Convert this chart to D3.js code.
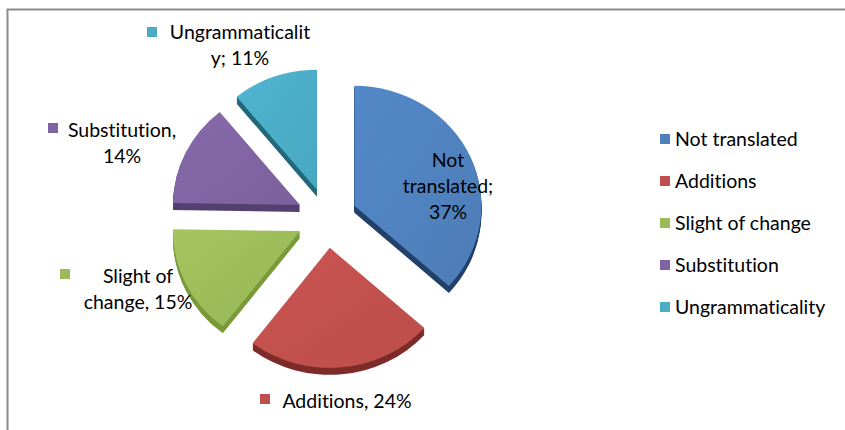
<!DOCTYPE html>
<html>
<head>
<meta charset="utf-8">
<script src="https://cdn.jsdelivr.net/npm/d3@7"></script>
<style>
  html, body { margin: 0; padding: 0; background: #fff; }
  svg text { font-family: Lato, "Open Sans", sans-serif; fill: #000; font-variant-ligatures: none; }
</style>
</head>
<body>
<div id="chart"></div>
<script>
// chart data
const categories = ["Not translated", "Additions", "Slight of change", "Substitution", "Ungrammaticality"];
const values = [37, 24, 15, 14, 11];
const colors = ["#4F81BD", "#C0504D", "#9BBB59", "#8064A2", "#4BACC6"];
const sideColors = ["#21406a", "#7d2c2a", "#7a9a3c", "#54406f", "#23697b"];
// data label text, one entry per line
const labelLines = [
    ["Not", "translated;", "37%"],
    ["Additions, 24%"],
    ["Slight of", "change, 15%"],
    ["Substitution,", "14%"],
    ["Ungrammaticalit", "y; 11%"]
];

const width = 845, height = 430;
const cx = 327, cy = 218;       // pie centre
const rx = 127, ry = 120;       // tilted pie radii
const explode = 30;
const depth = 7;

// where Excel put each data label (centre x of text block, first baseline, key square)
const labelLayout = [
    { x: 448, y: 167, key: [378, 153], keyInside: true },
    { x: 347, y: 408, key: [260, 394] },
    { x: 138, y: 283, key: [60, 269] },
    { x: 122, y: 137, key: [48, 123] },
    { x: 240, y: 39, key: [147, 27] }
];
const lineHeight = 26;
const fontSize = "19.5px";

const svg = d3.select("#chart")
    .append("svg")
    .attr("width", width)
    .attr("height", height);

// chart area frame (only top and left edges visible)
svg.append("path")
    .attr("d", `M7.5,${height} L7.5,9.5 L${width},9.5`)
    .attr("fill", "none")
    .attr("stroke", "#8a8a8a")
    .attr("stroke-width", 2);

const pie = d3.pie().sort(null).value(d => d.value);
const arcs = pie(values.map((v, i) => ({ value: v, i })));

const arc = d3.arc().innerRadius(0).outerRadius(rx);

// subtle shading on the top faces
const defs = svg.append("defs");
colors.forEach((c, i) => {
    const g = defs.append("linearGradient")
        .attr("id", `grad${i}`)
        .attr("x1", "0").attr("y1", "0")
        .attr("x2", "1").attr("y2", "1");
    g.append("stop").attr("offset", "0%").attr("stop-color", d3.color(c).brighter(0.15));
    g.append("stop").attr("offset", "100%").attr("stop-color", d3.color(c).darker(0.08));
});

const offset = d => {
    const mid = (d.startAngle + d.endAngle) / 2;
    return [explode * Math.sin(mid), -explode * Math.cos(mid)];
};

const pieGroup = svg.append("g");

// side walls: stacked darker copies shifted down
d3.range(depth, 0, -1).forEach(k => {
    pieGroup.append("g")
        .selectAll("path")
        .data(arcs)
        .join("path")
        .attr("transform", d => {
            const [ox, oy] = offset(d);
            return `translate(${cx + ox},${cy + oy + k}) scale(1,${ry / rx})`;
        })
        .attr("d", arc)
        .attr("fill", d => sideColors[d.data.i]);
});

// top faces
pieGroup.append("g")
    .selectAll("path")
    .data(arcs)
    .join("path")
    .attr("transform", d => {
        const [ox, oy] = offset(d);
        return `translate(${cx + ox},${cy + oy}) scale(1,${ry / rx})`;
    })
    .attr("d", arc)
    .attr("fill", d => `url(#grad${d.data.i})`);

// data labels
const labels = svg.append("g")
    .selectAll("g")
    .data(arcs)
    .join("g");

labels.append("rect")
    .attr("x", d => labelLayout[d.data.i].key[0])
    .attr("y", d => labelLayout[d.data.i].key[1])
    .attr("width", 10)
    .attr("height", 10)
    .attr("fill", d => labelLayout[d.data.i].keyInside ? d3.color(colors[d.data.i]).brighter(0.12) : colors[d.data.i]);

labels.append("text")
    .attr("text-anchor", "middle")
    .style("font-size", fontSize)
    .selectAll("tspan")
    .data(d => labelLines[d.data.i].map(t => ({ t, i: d.data.i })))
    .join("tspan")
    .attr("x", d => labelLayout[d.i].x)
    .attr("y", (d, j) => labelLayout[d.i].y + j * lineHeight)
    .text(d => d.t);

// legend
const legendY = d3.scalePoint()
    .domain(categories)
    .range([139, 307]);

const legend = svg.append("g")
    .selectAll("g")
    .data(categories)
    .join("g")
    .attr("transform", d => `translate(660,${legendY(d)})`);

legend.append("rect")
    .attr("x", 0)
    .attr("y", -5)
    .attr("width", 10)
    .attr("height", 10)
    .attr("fill", (d, i) => colors[i]);

legend.append("text")
    .attr("x", 15)
    .attr("dy", "0.35em")
    .style("font-size", fontSize)
    .text(d => d);
</script>
</body>
</html>
